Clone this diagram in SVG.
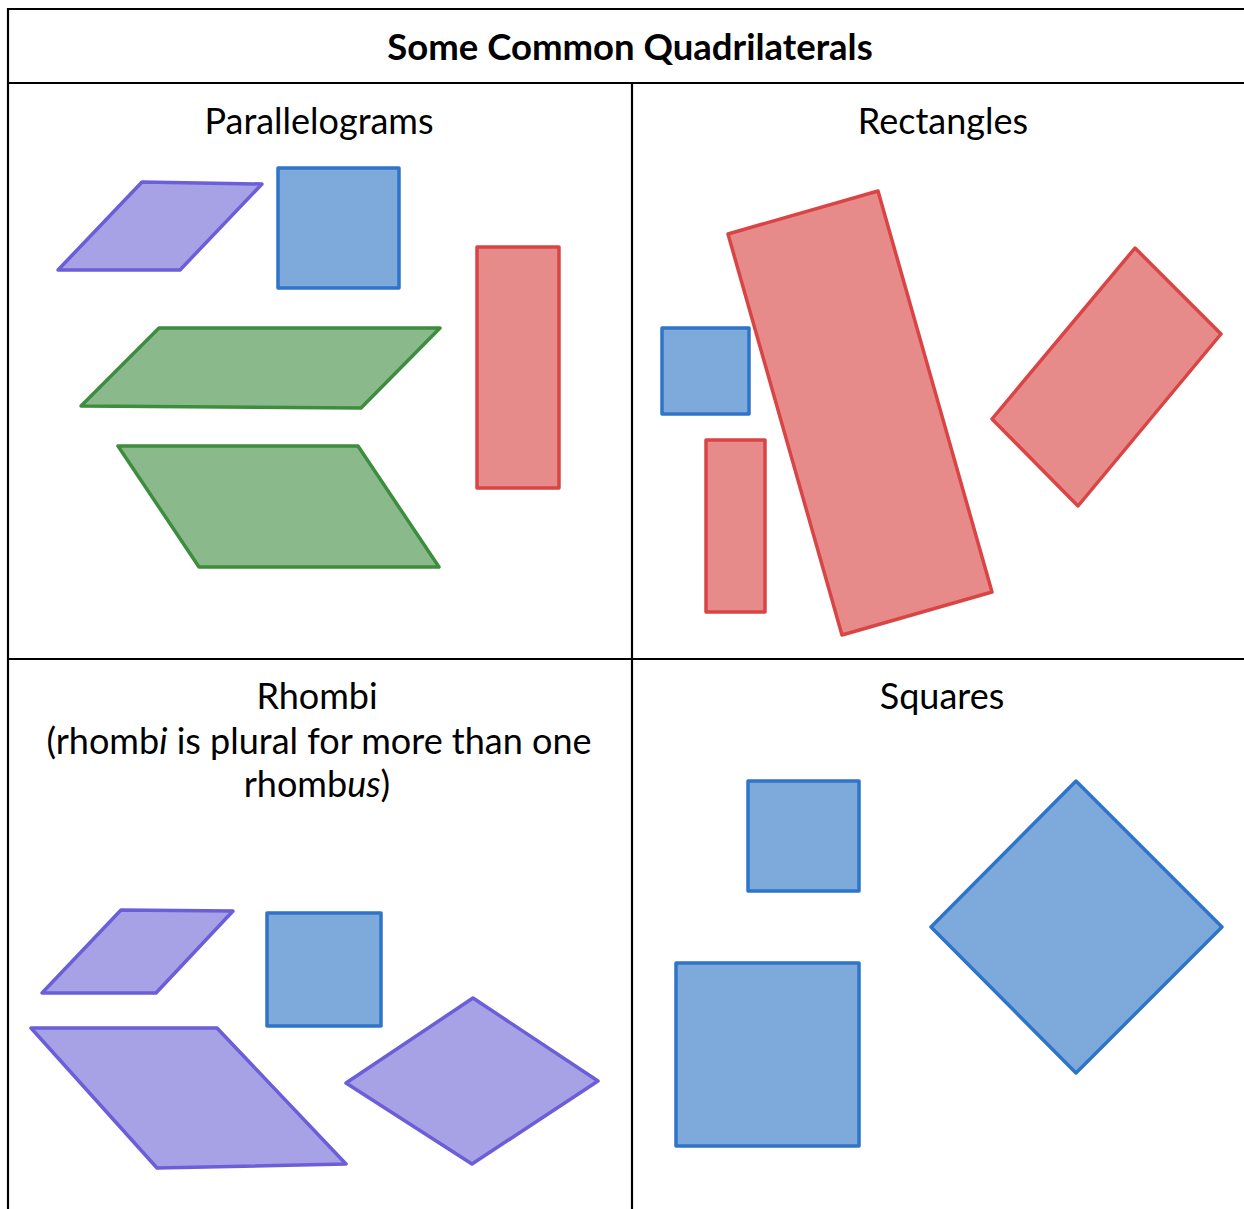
<svg xmlns="http://www.w3.org/2000/svg" width="1244" height="1209" viewBox="0 0 1244 1209">
<style>
.grid{stroke:#000;stroke-width:2.2;fill:none}
.t{font-family:Lato,"Noto Sans",sans-serif;font-size:36px;fill:#000;text-anchor:middle}
.h{font-weight:bold;font-size:36.5px}
.pu{fill:#a7a1e5;stroke:#6c5ed8;stroke-width:3.5;stroke-linejoin:round}
.bl{fill:#7eaadb;stroke:#2f74c9;stroke-width:3.5;stroke-linejoin:round}
.rd{fill:#e78b8a;stroke:#d94545;stroke-width:3.5;stroke-linejoin:round}
.gr{fill:#8aba8b;stroke:#3e8d3f;stroke-width:3.5;stroke-linejoin:round}
</style>
<rect width="1244" height="1209" fill="#fff"/>
<g id="table">
<path class="grid" d="M8,1209 V9 H1244 M8,83 H1244 M632,83 V1209 M8,659 H1244"/>
</g>
<g id="labels">
<text class="t h" x="630" y="60">Some Common Quadrilaterals</text>
<text class="t" x="319" y="134">Parallelograms</text>
<text class="t" x="943" y="134">Rectangles</text>
<text class="t" x="317" y="709">Rhombi</text>
<text class="t" x="319" y="754">(rhomb<tspan font-style="italic">i</tspan> is plural for more than one</text>
<text class="t" x="317" y="797">rhomb<tspan font-style="italic">us</tspan>)</text>
<text class="t" x="942" y="709">Squares</text>
</g>
<g id="parallelograms">
<polygon class="pu" points="58,270 142,182 262,184 180,270"/>
<rect class="bl" x="278" y="168" width="121" height="120"/>
<rect class="rd" x="477" y="247" width="82" height="241"/>
<polygon class="gr" points="81,406 159,328 440,328 361,408"/>
<polygon class="gr" points="118,446 358,446 439,567 199,567"/>
</g>
<g id="rectangles">
<rect class="bl" x="662" y="328" width="87" height="86"/>
<rect class="rd" x="706" y="440" width="59" height="172"/>
<polygon class="rd" points="728,234 878,191 992,592 842,635"/>
<polygon class="rd" points="992,419 1135,248 1221,334 1078,506"/>
</g>
<g id="rhombi">
<polygon class="pu" points="42,993 121,910 233,911 156,993"/>
<rect class="bl" x="267" y="913" width="114" height="113"/>
<polygon class="pu" points="31,1028 217,1028 346,1164 157,1168"/>
<polygon class="pu" points="346,1083 473,998 598,1081 472,1164"/>
</g>
<g id="squares">
<rect class="bl" x="748" y="781" width="111" height="110"/>
<rect class="bl" x="676" y="963" width="183" height="183"/>
<polygon class="bl" points="931,927 1076,781 1222,927 1076,1073"/>
</g>
</svg>
